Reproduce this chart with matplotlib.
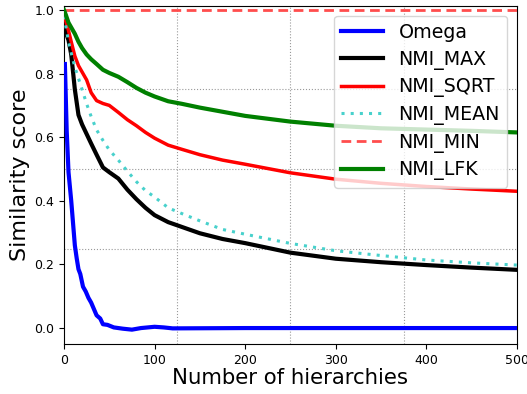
import matplotlib
matplotlib.use("Agg")
import matplotlib.pyplot as plt

# ---- data ----
x = [0, 2, 5, 8, 12, 16, 20, 25, 30, 36, 43, 50, 60, 70, 80, 90, 100,
     115, 130, 150, 175, 200, 250, 300, 350, 400, 450, 500]

omega_x = [1, 3, 5, 8, 10, 12, 14, 16, 18, 21, 24, 27, 30, 33, 36, 40, 43,
           48, 55, 65, 75, 85, 100, 110, 120, 200, 300, 400, 500]
omega = [0.83, 0.62, 0.49, 0.40, 0.33, 0.26, 0.22, 0.185, 0.17, 0.13, 0.115,
         0.095, 0.08, 0.06, 0.04, 0.03, 0.012, 0.01, 0.002, -0.002, -0.005,
         0.0, 0.004, 0.002, -0.001, 0.0, 0.0, 0.0, 0.0]

nmi_max = [0.965, 0.93, 0.905, 0.86, 0.75, 0.67, 0.64, 0.61, 0.58, 0.545, 0.505,
           0.49, 0.47, 0.435, 0.405, 0.378, 0.355, 0.333, 0.318, 0.298, 0.28,
           0.267, 0.237, 0.218, 0.207, 0.198, 0.19, 0.183]

nmi_sqrt = [0.975, 0.965, 0.935, 0.9, 0.855, 0.825, 0.805, 0.78, 0.74, 0.715,
            0.706, 0.7, 0.678, 0.655, 0.636, 0.615, 0.597, 0.575, 0.562, 0.545,
            0.528, 0.515, 0.488, 0.468, 0.455, 0.445, 0.437, 0.43]

nmi_mean = [0.98, 0.95, 0.9, 0.865, 0.82, 0.785, 0.75, 0.705, 0.665, 0.623,
            0.59, 0.56, 0.528, 0.493, 0.46, 0.432, 0.412, 0.378, 0.36, 0.337,
            0.31, 0.295, 0.266, 0.243, 0.228, 0.214, 0.205, 0.198]

nmi_min = [1.0] * len(x)

nmi_lfk = [1.0, 0.985, 0.96, 0.945, 0.925, 0.9, 0.88, 0.86, 0.845, 0.83, 0.812,
           0.802, 0.79, 0.773, 0.755, 0.74, 0.728, 0.713, 0.705, 0.693, 0.68,
           0.667, 0.649, 0.636, 0.628, 0.624, 0.62, 0.615]

xticks = [0, 100, 200, 300, 400, 500]
yticks = [0.0, 0.2, 0.4, 0.6, 0.8, 1.0]
grid_x = [125, 250, 375, 500]
grid_y = [0.0, 0.25, 0.5, 0.75, 1.0]

# ---- plot ----
fig = plt.figure(figsize=(5.27, 3.94), dpi=100)
ax = fig.add_axes([0.1214, 0.127, 0.8596, 0.8578])

ax.plot(omega_x, omega, color="blue", lw=3, label="Omega", zorder=3)
ax.plot(x, nmi_max, color="black", lw=3, label="NMI_MAX", zorder=3)
ax.plot(x, nmi_sqrt, color="red", lw=2.5, label="NMI_SQRT", zorder=3)
ax.plot(x, nmi_mean, color="mediumturquoise", lw=2.2, ls=(0, (1, 2)),
        label="NMI_MEAN", zorder=3)
ax.plot(x, nmi_min, color="#ff4d4d", lw=2, ls=(0, (3.5, 2)), label="NMI_MIN",
        zorder=3)
ax.plot(x, nmi_lfk, color="green", lw=3, label="NMI_LFK", zorder=3)

ax.set_xlim(0, 500)
ax.set_ylim(-0.05, 1.0125)
ax.set_xticks(xticks)
ax.set_yticks(yticks)
ax.set_xticks(grid_x, minor=True)
ax.set_yticks(grid_y, minor=True)
ax.tick_params(which="minor", length=0)
ax.tick_params(which="major", labelsize=9)
ax.grid(False, which="major")
ax.grid(True, which="minor", color="gray", ls=":", lw=0.8, alpha=0.8)

ax.set_xlabel("Number of hierarchies", fontsize=15.3, labelpad=1)
ax.set_ylabel("Similarity score", fontsize=16, labelpad=3)

ax.legend(loc="upper right", fontsize=13.7, framealpha=0.8,
          borderaxespad=0.5, handlelength=2.2, labelspacing=0.4)

fig.savefig("out.png", dpi=100)
